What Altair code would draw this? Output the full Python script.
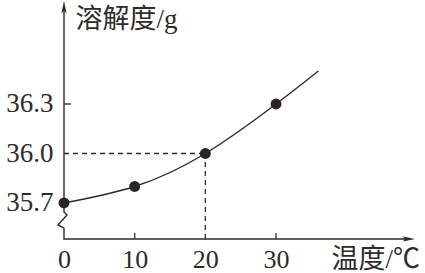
import altair as alt
import pandas as pd

# ---- data ----
temps = [0, 10, 20, 30]                 # measured points (°C)
solub = [35.7, 35.8, 36.0, 36.3]        # solubility (g)
curve_t = [0, 10, 20, 30, 36]           # curve drawn through points, extended
curve_s = [35.7, 35.8, 36.0, 36.3, 36.5]
x_ticks = [0, 10, 20, 30]
y_ticks = [35.7, 36.0, 36.3]
ref_t, ref_s = 20, 36.0                 # dashed guide lines

# axis frame (data units): y axis with a break, then x axis
XMIN, XMAX = 0, 51.08
YMIN, YMAX = 35.4818, 36.9303
frame_t = [0, 0, 0.42, -0.85, 0, 0, 49.0]
frame_s = [36.86, 35.645, 35.627, 35.567, 35.548, YMIN, YMIN]

W, H = 361, 239
INK = "#2e2b29"
NUMF = "Liberation Serif"
TITF = "Liberation Serif, Noto Sans CJK SC"

xs = alt.Scale(domain=[XMIN, XMAX], nice=False, zero=False)
ys = alt.Scale(domain=[YMIN, YMAX], nice=False, zero=False)

curve_df = pd.DataFrame({"t": curve_t, "s": curve_s})
pts_df = pd.DataFrame({"t": temps, "s": solub})
frame_df = pd.DataFrame({"t": frame_t, "s": frame_s, "i": range(len(frame_t))})

xaxis = alt.Axis(values=x_ticks, domain=False, ticks=False, tickSize=0, grid=False,
                 labelFont=NUMF, labelFontSize=26, labelColor=INK, labelPadding=7,
                 labelOverlap=False, labelFlush=False, format="d",
                 title="温度/℃", titleFont=TITF, titleFontSize=27, titleFontWeight="normal",
                 titleColor=INK, titleAngle=0, titleAlign="left", titleBaseline="alphabetic",
                 titleX=267, titleY=28)
yaxis = alt.Axis(values=y_ticks, domain=False, ticks=False, tickSize=0, grid=False,
                 labelFont=NUMF, labelFontSize=27, labelColor=INK, labelPadding=11,
                 labelOverlap=False, labelFlush=False, format=".1f", labelBaseline="middle",
                 title="溶解度/g", titleFont=TITF, titleFontSize=27, titleFontWeight="normal",
                 titleColor=INK, titleAngle=0, titleAlign="left", titleBaseline="alphabetic",
                 titleX=11, titleY=27)

curve = alt.Chart(curve_df).mark_line(
    interpolate="natural", color=INK, strokeWidth=1.4, clip=False
).encode(
    x=alt.X("t:Q", scale=xs, axis=xaxis),
    y=alt.Y("s:Q", scale=ys, axis=yaxis),
)

pts = alt.Chart(pts_df).mark_circle(size=120, color="#2a2522", opacity=1).encode(
    x=alt.X("t:Q", scale=xs),
    y=alt.Y("s:Q", scale=ys),
)

guide_df = pd.DataFrame({"t": [ref_t], "s": [ref_s]})
hdash = alt.Chart(guide_df).mark_rule(color=INK, strokeDash=[5, 4], strokeWidth=1.3).encode(
    x=alt.X("zero:Q", scale=xs), x2="t:Q",
    y=alt.Y("s:Q", scale=ys),
).transform_calculate(zero="0")
vdash = alt.Chart(guide_df).mark_rule(color=INK, strokeDash=[5, 4], strokeWidth=1.3).encode(
    x=alt.X("t:Q", scale=xs),
    y=alt.Y("base:Q", scale=ys), y2="s:Q",
).transform_calculate(base=str(YMIN))

frame = alt.Chart(frame_df).mark_line(color=INK, strokeWidth=1.4, clip=False).encode(
    x=alt.X("t:Q", scale=xs),
    y=alt.Y("s:Q", scale=ys),
    order="i:Q",
)

xtick_df = pd.DataFrame({"t": [10, 30]})
xticks = alt.Chart(xtick_df).mark_rule(color=INK, strokeWidth=1.3).encode(
    x=alt.X("t:Q", scale=xs),
    y=alt.value(H), y2=alt.value(H - 6),
)
ytick_df = pd.DataFrame({"s": [36.3]})
yticks = alt.Chart(ytick_df).mark_rule(color=INK, strokeWidth=1.3).encode(
    y=alt.Y("s:Q", scale=ys),
    x=alt.value(0), x2=alt.value(7),
)

xarrow = alt.Chart(pd.DataFrame({"t": [48.82], "s": [YMIN]})).mark_point(
    shape="M-1,-0.42L1,0L-1,0.42L-0.7,0Z", size=144, filled=True, color=INK, opacity=1
).encode(x=alt.X("t:Q", scale=xs), y=alt.Y("s:Q", scale=ys))
yarrow = alt.Chart(pd.DataFrame({"t": [0], "s": [36.888]})).mark_point(
    shape="M-0.42,1L0,-1L0.42,1L0,0.7Z", size=144, filled=True, color=INK, opacity=1
).encode(x=alt.X("t:Q", scale=xs), y=alt.Y("s:Q", scale=ys))

chart = alt.layer(
    curve, hdash, vdash, frame, xticks, yticks, xarrow, yarrow, pts
).properties(
    width=W, height=H,
    autosize=alt.AutoSizeParams(type="none"),
    padding={"left": 64, "top": 0, "right": 0, "bottom": 34},
    background="white",
).configure_view(stroke=None)

chart.save("out.html", embed_options={"renderer": "svg", "actions": False})
